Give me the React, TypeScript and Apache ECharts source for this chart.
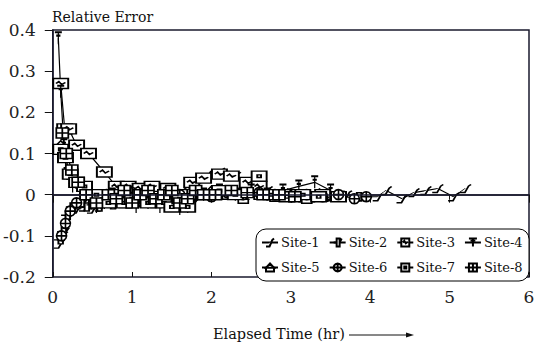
import React, { useEffect, useRef } from "react";
import * as echarts from "echarts";

const siteNames = ["Site-1", "Site-2", "Site-3", "Site-4", "Site-5", "Site-6", "Site-7", "Site-8"];
const legendRow1 = ["Site-1", "Site-2", "Site-3", "Site-4"];
const legendRow2 = ["Site-5", "Site-6", "Site-7", "Site-8"];

const site1X = [0.08, 0.12, 0.17, 0.22, 0.3, 0.4, 0.5, 0.6, 0.75, 0.9, 1.05, 1.2, 1.4, 1.6, 1.8, 1.95, 2.1, 2.3, 2.5, 2.7, 2.9, 3.1, 3.3, 3.5, 3.7, 3.9, 4.1, 4.2, 4.4, 4.55, 4.7, 4.85, 5.05, 5.2];
const site1Y = [-0.12, -0.1, -0.06, -0.045, -0.035, -0.03, -0.035, -0.03, -0.02, -0.01, -0.015, 0.0, -0.01, 0.005, 0.02, 0.05, 0.055, 0.045, 0.02, 0.01, 0.005, 0.0, 0.005, -0.005, 0.0, -0.005, -0.005, 0.01, -0.01, 0.005, 0.01, 0.015, -0.005, 0.015];

const site2X = [0.09, 0.13, 0.18, 0.24, 0.3, 0.36, 0.42, 0.5, 0.58, 0.66, 0.75, 0.85, 0.95, 1.05, 1.15, 1.25, 1.35, 1.45, 1.55, 1.65, 1.75, 1.9, 2.1, 2.35, 2.6, 2.85, 3.1, 3.35, 3.6, 3.85];
const site2Y = [-0.11, -0.09, -0.05, -0.03, -0.025, -0.02, -0.03, -0.025, -0.03, -0.02, -0.025, -0.02, -0.015, -0.02, -0.01, -0.02, -0.015, -0.005, -0.02, -0.01, -0.02, 0.0, 0.01, 0.005, 0.0, -0.005, 0.0, -0.005, 0.0, -0.005];

const site3X = [0.1, 0.15, 0.2, 0.3, 0.45, 0.65, 0.8, 0.95, 1.1, 1.25, 1.45, 1.6, 1.75, 1.9, 2.1, 2.25, 2.45, 2.6, 2.8, 3.0, 3.2, 3.4, 3.6];
const site3Y = [0.27, 0.16, 0.16, 0.12, 0.1, 0.055, 0.02, 0.02, 0.015, 0.02, 0.015, 0.0, 0.03, 0.04, 0.05, 0.045, 0.03, 0.02, 0.0, 0.0, -0.005, 0.0, -0.005];

const site4X = [0.07, 0.1, 0.14, 0.18, 0.25, 0.35, 0.45, 0.55, 0.65, 0.75, 0.9, 1.05, 1.2, 1.35, 1.5, 1.6, 1.7, 1.9, 2.1, 2.3, 2.5, 2.7, 2.9, 3.1, 3.3, 3.5];
const site4Y = [0.38, 0.25, 0.12, 0.05, 0.02, 0.01, -0.01, -0.03, -0.02, 0.0, -0.01, -0.03, -0.02, -0.03, -0.02, -0.035, -0.03, 0.0, 0.01, 0.0, 0.01, 0.0, 0.01, 0.02, 0.03, 0.01];

const site5X = [0.1, 0.14, 0.2, 0.28, 0.38, 0.5, 0.6, 0.7, 0.8, 0.9, 1.0, 1.1, 1.2, 1.3, 1.4, 1.5, 1.6, 1.7, 1.85, 2.0, 2.2, 2.4, 2.6, 2.8, 3.0, 3.2, 3.4];
const site5Y = [0.12, 0.09, 0.05, 0.03, 0.02, 0.0, -0.015, -0.01, -0.005, -0.02, -0.01, -0.015, 0.0, -0.02, -0.01, -0.025, -0.01, -0.02, 0.0, 0.01, 0.0, -0.01, 0.0, -0.005, 0.0, -0.01, -0.005];

const site6X = [0.11, 0.16, 0.22, 0.3, 0.4, 0.52, 0.68, 0.85, 1.0, 1.2, 1.4, 1.6, 1.8, 2.0, 2.2, 2.4, 2.6, 2.8, 3.0, 3.2, 3.4, 3.6, 3.8, 3.95];
const site6Y = [-0.1, -0.07, -0.04, -0.02, 0.0, -0.01, 0.0, -0.01, 0.005, 0.0, -0.005, 0.0, 0.0, -0.005, 0.005, 0.0, 0.005, 0.0, -0.005, 0.0, -0.005, 0.0, -0.01, -0.005];

const site7X = [0.1, 0.16, 0.22, 0.3, 0.4, 0.55, 0.7, 0.8, 0.9, 1.0, 1.1, 1.2, 1.3, 1.4, 1.5, 1.6, 1.7, 1.9, 2.1, 2.3, 2.6, 2.75, 2.95, 3.15, 3.35];
const site7Y = [0.11, 0.09, 0.05, 0.03, 0.02, 0.0, -0.02, 0.0, -0.02, -0.01, 0.0, -0.02, -0.01, -0.02, -0.03, -0.01, -0.03, 0.0, 0.01, 0.0, 0.045, 0.0, -0.005, 0.0, -0.005];

const site8X = [0.12, 0.17, 0.24, 0.32, 0.42, 0.55, 0.7, 0.8, 0.9, 1.0, 1.1, 1.2, 1.3, 1.4, 1.5, 1.6, 1.7, 1.8, 1.9, 2.05, 2.25, 2.45, 2.65, 2.85, 3.05];
const site8Y = [0.15, 0.1, 0.06, 0.03, 0.0, -0.02, 0.0, -0.01, 0.01, -0.02, 0.0, 0.01, -0.01, 0.0, 0.01, -0.02, -0.01, 0.01, 0.0, 0.0, 0.01, 0.005, 0.0, 0.0, -0.005];

const xs = [site1X, site2X, site3X, site4X, site5X, site6X, site7X, site8X];
const ys = [site1Y, site2Y, site3Y, site4Y, site5Y, site6Y, site7Y, site8Y];

const symbols: any[] = [
  { symbol: "path://M0,10 L8,10 L14,2 L18,0", size: [11, 8] },
  { symbol: "path://M0,5 L6,5 M6,1 L12,1 L12,9 L6,9 Z M12,5 L16,1", size: [12, 8] },
  { symbol: "path://M0,0 L16,0 L16,10 L0,10 Z M3,5 L6,3 L9,6 L13,4", size: [15, 10] },
  { symbol: "path://M0,0 L10,0 M5,0 L5,14 M2,4 L8,4", size: [7, 12] },
  { symbol: "path://M6,0 L12,6 L0,6 Z M0,6 L12,6 L12,11 L0,11 Z", size: [10, 9] },
  { symbol: "path://M6,0 A6,6 0 1 1 5.99,0 Z M6,0 L6,12 M0,6 L12,6", size: [10, 10] },
  { symbol: "path://M0,0 L16,0 L16,11 L0,11 Z M6,4 L10,4 L10,7 L6,7 Z", size: [15, 10] },
  { symbol: "path://M0,0 L14,0 L14,12 L0,12 Z M7,0 L7,12 M0,6 L14,6", size: [12, 10] },
];

const FONT = "DejaVu Serif";

export default function App() {
  const ref = useRef<HTMLDivElement>(null);
  useEffect(() => {
    if (!ref.current) return;
    const chart = echarts.init(ref.current, undefined, { renderer: "svg" });
    const series: any[] = siteNames.map((name, i) => ({
      name,
      type: "line",
      data: xs[i].map((x, j) => [x, ys[i][j]]),
      symbol: symbols[i].symbol,
      symbolSize: symbols[i].size,
      showAllSymbol: true,
      lineStyle: { color: "#000", width: 1.2 },
      itemStyle: { color: "#fff", borderColor: "#000", borderWidth: 1.6 },
      emphasis: { disabled: true },
      z: 3,
    }));
    series.push({
      type: "line",
      data: [],
      markLine: {
        silent: true,
        symbol: "none",
        label: { show: false },
        lineStyle: { color: "#1a1a2e", width: 1.5, type: "solid" },
        data: [{ yAxis: 0 }],
      },
    });
    const legendCommon = {
      orient: "horizontal",
      itemWidth: 16,
      itemHeight: 10,
      itemGap: 9,
      padding: 0,
      z: 20,
      textStyle: { fontFamily: FONT, fontSize: 13, color: "#111", padding: [0, 0, 0, -2] },
    };
    chart.setOption({
      animation: false,
      backgroundColor: "#fff",
      title: {
        text: "Relative Error",
        left: 47,
        top: 5,
        textStyle: { fontFamily: FONT, fontSize: 14, fontWeight: "normal", color: "#111" },
      },
      grid: { left: 52, right: 19, top: 30, bottom: 70, show: true, borderColor: "#1a1a2e", borderWidth: 1.5 },
      legend: [
        { ...legendCommon, data: legendRow1, left: 261, top: 236 },
        { ...legendCommon, data: legendRow2, left: 261, top: 261 },
      ],
      xAxis: [
        {
          type: "value",
          min: 0,
          max: 6,
          interval: 1,
          axisLine: { lineStyle: { color: "#1a1a2e", width: 1.5 } },
          axisTick: { show: true, length: 8, lineStyle: { color: "#111" } },
          axisLabel: { fontFamily: FONT, fontSize: 17, color: "#222", margin: 11 },
          splitLine: { show: false },
        },
        {
          type: "value",
          position: "bottom",
          min: 0,
          max: 6,
          interval: 1,
          axisLine: { show: false },
          axisTick: { show: true, inside: true, length: 5, lineStyle: { color: "#111" } },
          axisLabel: { show: false },
          splitLine: { show: false },
        },
      ],
      yAxis: {
        type: "value",
        min: -0.2,
        max: 0.4,
        interval: 0.1,
        axisLine: { show: true, lineStyle: { color: "#1a1a2e", width: 1.5 } },
        axisTick: { show: true, length: 8, lineStyle: { color: "#111" } },
        axisLabel: { fontFamily: FONT, fontSize: 17, color: "#222", margin: 17 },
        splitLine: { show: false },
      },
      graphic: [
        {
          type: "rect",
          shape: { x: 256, y: 229, width: 273, height: 52, r: 10 },
          style: { fill: "#fff", stroke: "#000", lineWidth: 1 },
          z: 10,
        },
        {
          type: "text",
          left: 213,
          top: 326,
          style: { text: "Elapsed Time (hr)", fontFamily: FONT, fontSize: 14.5, fill: "#111" },
        },
        {
          type: "line",
          shape: { x1: 349, y1: 335, x2: 410, y2: 335 },
          style: { stroke: "#111", lineWidth: 1 },
        },
        {
          type: "polygon",
          shape: { points: [[414, 335], [406, 332.5], [406, 337.5]] },
          style: { fill: "#111" },
        },
      ],
      series,
    });
    return () => chart.dispose();
  }, []);
  return <div ref={ref} style={{ width: 548, height: 347, position: "absolute", left: 0, top: 0 }} />;
}
